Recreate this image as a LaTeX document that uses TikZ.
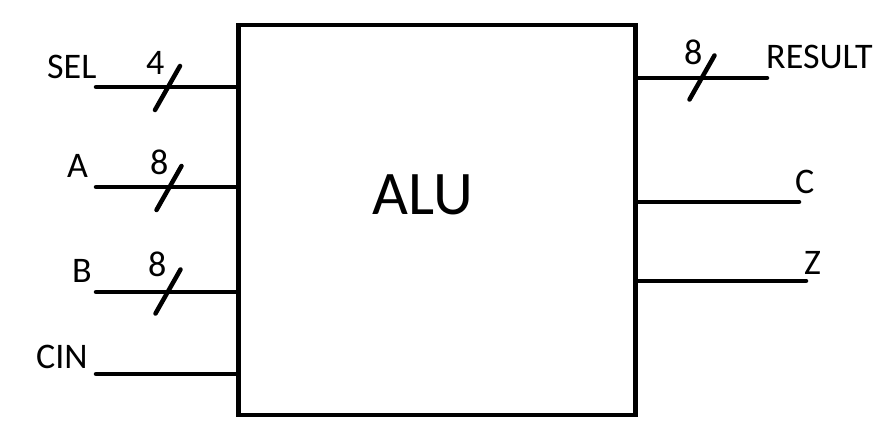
\documentclass[tikz,border=0pt]{standalone}
\usepackage{fontspec}
\setmainfont{Carlito}
\begin{document}
\begin{tikzpicture}[x=1pt,y=-1pt,
  wire/.style={line width=4.5pt,line cap=round},
  lbl/.style={anchor=base west,inner sep=0pt,font=\fontsize{36}{40}\selectfont},
  busslash/.style={line width=4.5pt,line cap=round}]
\useasboundingbox (0,0) rectangle (894,438);
\node[draw,line width=4.8pt,minimum width=397pt,minimum height=390pt,inner sep=0pt] (alu) at (437,220) {};
\node[anchor=base,inner sep=0pt,font=\fontsize{62}{70}\selectfont] (alutxt) at (423,215) {ALU};
% inputs
\coordinate (sel) at (96,87);
\coordinate (a) at (96,187);
\coordinate (b) at (96,292);
\coordinate (cin) at (96,374);
\draw[wire] (sel) -- (alu.west |- sel);
\draw[wire] (a) -- (alu.west |- a);
\draw[wire] (b) -- (alu.west |- b);
\draw[wire] (cin) -- (alu.west |- cin);
% outputs
\coordinate (res) at (767,78);
\coordinate (c) at (799,202);
\coordinate (z) at (806,281);
\draw[wire] (alu.east |- res) -- (res);
\draw[wire] (alu.east |- c) -- (c);
\draw[wire] (alu.east |- z) -- (z);
% bus slashes
\coordinate (s1) at (167.5,88);
\coordinate (s2) at (169,188);
\coordinate (s3) at (168,291.5);
\coordinate (s4) at (702,77.5);
\foreach \s in {s1,s2,s3,s4}
  \draw[busslash] ([shift={(-12.5,22)}]\s) -- ([shift={(12.5,-22)}]\s);
% labels
\node[lbl] (lsel) at (47,79) {SEL};
\node[lbl] (n4) at (146,75) {4};
\node[lbl] (la) at (67,178) {A};
\node[lbl] (n8a) at (150,175) {8};
\node[lbl] (lb) at (72,283) {B};
\node[lbl] (n8b) at (148,277) {8};
\node[lbl] (lcin) at (36,368) {CIN};
\node[lbl] (n8r) at (684,65) {8};
\node[lbl] (lres) at (766,69) {RESULT};
\node[lbl] (lc) at (795,194) {C};
\node[lbl] (lz) at (804,275) {Z};
\end{tikzpicture}
\end{document}
